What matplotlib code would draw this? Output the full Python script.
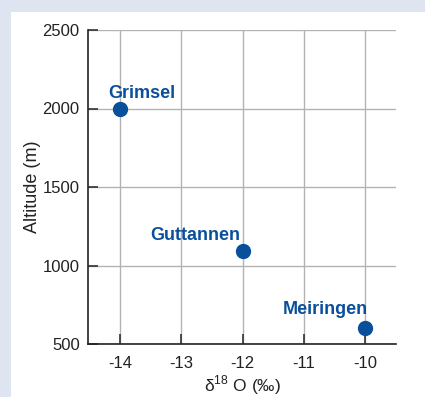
import matplotlib
matplotlib.use("Agg")
import matplotlib.pyplot as plt
from matplotlib.patches import Rectangle

plt.rcParams['font.family'] = ['Liberation Sans', 'DejaVu Sans']
plt.rcParams['mathtext.fontset'] = 'custom'
plt.rcParams['mathtext.rm'] = 'Liberation Sans'

# data
sites = ['Grimsel', 'Guttannen', 'Meiringen']
d18o = [-14, -12, -10]
altitude = [2000, 1090, 600]
x_ticks = [-14, -13, -12, -11, -10]
y_ticks = [500, 1000, 1500, 2000, 2500]

blue = '#0a4f9c'
dark = '#222222'

fig = plt.figure(figsize=(4.25, 3.97), dpi=100)
fig.patch.set_facecolor('#dfe5f0')
fig.patches.append(Rectangle((11 / 425, 0), 1, 1 - 12 / 397, transform=fig.transFigure,
                             facecolor='white', edgecolor='none', zorder=-10))

ax = fig.add_axes([88 / 425, 1 - 344 / 397, 308 / 425, 314 / 397])
ax.set_facecolor('none')

ax.plot(d18o, altitude, 'o', color=blue, markersize=10, zorder=3, clip_on=False)

# label offsets in pixels (dx, dy, ha)
offs = {'Grimsel': (-12, 11, 'left'),
        'Guttannen': (-2, 11, 'right'),
        'Meiringen': (3, 14, 'right')}
for name, x, y in zip(sites, d18o, altitude):
    dx, dy, ha = offs[name]
    ax.annotate(name, (x, y), xytext=(dx, dy), textcoords='offset pixels',
                ha=ha, va='baseline', color=blue, fontsize=13, fontweight='bold')

ax.set_xlim(-14.52, -9.5)
ax.set_ylim(500, 2500)
ax.set_xticks(x_ticks)
ax.set_yticks(y_ticks)
ax.set_xticklabels([str(t) for t in x_ticks])

ax.grid(True, color='#b3b3b3', linewidth=1)
ax.set_axisbelow(True)
for s in ['top', 'right']:
    ax.spines[s].set_visible(False)
for s in ['left', 'bottom']:
    ax.spines[s].set_linewidth(1.2)
    ax.spines[s].set_color(dark)

ax.tick_params(direction='in', length=7, width=1.2, color='#333333',
               labelsize=12, labelcolor=dark)
ax.tick_params(axis='y', pad=6)
ax.tick_params(axis='x', pad=9)

ax.set_ylabel('Altitude (m)', fontsize=13, color=dark, labelpad=1)
ax.set_xlabel(r'δ$^{18}$ O (‰)', fontsize=12.5, color=dark, labelpad=1.5)

fig.savefig('out.png', dpi=100)
